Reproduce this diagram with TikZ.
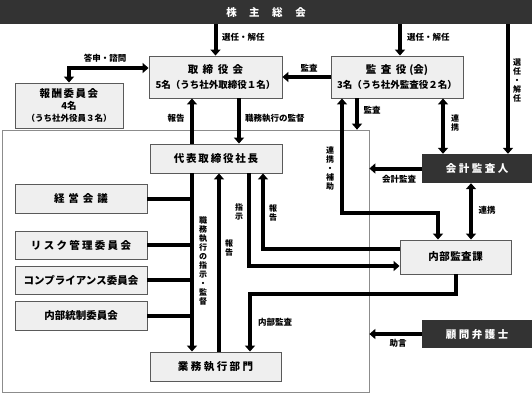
\documentclass[tikz,border=0pt]{standalone}
\usepackage{fontspec}
\setmainfont{Noto Sans CJK JP}
\usetikzlibrary{arrows.meta}
\definecolor{boxfill}{HTML}{EFEFEF}
\definecolor{boxline}{HTML}{5A5A5A}
\definecolor{darkfill}{HTML}{333333}
\definecolor{frameline}{HTML}{8C8C8C}
\newdimen\lsp
\def\soutx#1{\ifx#1\relax\unkern\else#1\kern\lsp\expandafter\soutx\fi}
\newcommand\ls[2]{{\lsp=#1\relax\soutx#2\relax}}
\newcommand\titlef{\fontsize{10.5}{13}\selectfont\bfseries}
\newcommand\subf{\fontsize{9.5}{13}\selectfont\bfseries}
\tikzset{
  box/.style={draw=boxline, fill=boxfill, line width=0.9pt, inner sep=0pt, align=center, font=\titlef},
  darkbox/.style={fill=darkfill, text=white, inner sep=0pt, align=center, font=\titlef},
  frame/.style={draw=frameline, line width=0.7pt, inner sep=0pt},
  arr/.style={line width=4pt, -{Triangle[length=6pt,width=10pt]}},
  dbl/.style={line width=4pt, {Triangle[length=6pt,width=10pt]}-{Triangle[length=6pt,width=10pt]}},
  ln/.style={line width=4pt},
  lab/.style={font=\fontsize{8.5}{9}\selectfont\bfseries, inner sep=0pt},
  vlab/.style={font=\fontsize{8}{9}\selectfont\bfseries, inner sep=0pt, align=center},
}
\begin{document}
\begin{tikzpicture}[x=1pt,y=-1pt]
\useasboundingbox (0,0) rectangle (532,394);
% frame of executive area
\node[frame, minimum width=367pt, minimum height=262pt] (shikko) at (185.5,261) {};
% boxes
\node[darkbox, minimum width=532pt, minimum height=24pt] (soukai) at (266,12) {\ls{12.5pt}{株主総会}};
\node[box, minimum width=133pt, minimum height=42pt] (torishimari) at (215.5,77) {\ls{4.5pt}{取締役会}\\[2pt]{\subf 5名（うち社外取締役１名）}};
\node[box, minimum width=132pt, minimum height=42pt] (kansayaku) at (397,77) {\ls{4.5pt}{監査役}\kern3pt(会)\\[2pt]{\subf 3名（うち社外監査役２名）}};
\node[box, minimum width=108pt, minimum height=45pt] (houshu) at (69,105.5) {\ls{1.5pt}{報酬委員会}\\[-1pt]{\subf 4名}\\[-1pt]{\fontsize{8.5}{13}\selectfont （うち社外役員３名）}};
\node[box, minimum width=132pt, minimum height=29pt] (daihyo) at (216,158.5) {\ls{1.8pt}{代表取締役社長}};
\node[box, minimum width=132pt, minimum height=29pt] (keiei) at (81,198.5) {\ls{4pt}{経営会議}};
\node[box, minimum width=132pt, minimum height=28pt] (risk) at (81,245) {\ls{2.3pt}{リスク管理委員会}};
\node[box, minimum width=132pt, minimum height=28pt] (comp) at (81,280) {コンプライアンス委員会};
\node[box, minimum width=132pt, minimum height=29pt] (naibu) at (81,315.5) {内部統制委員会};
\node[box, minimum width=131pt, minimum height=29pt] (gyomu) at (215.5,366.5) {\ls{2.5pt}{業務執行部門}};
\node[darkbox, minimum width=110pt, minimum height=29pt] (kaikei) at (477,168.5) {\ls{2.5pt}{会計監査人}};
\node[box, minimum width=111pt, minimum height=34pt] (naibukansa) at (455.5,257) {\ls{0.5pt}{内部監査課}};
\node[darkbox, minimum width=110pt, minimum height=28pt] (komon) at (477,334) {\ls{2.5pt}{顧問弁護士}};
\coordinate (h1) at (0,213);
\coordinate (spine) at ([xshift=-24pt]daihyo.south);
% connectors
\draw[arr] (torishimari.north |- soukai.south) -- (torishimari.north);
\draw[arr] ([xshift=3pt]kansayaku.north |- soukai.south) -- ([xshift=3pt]kansayaku.north);
\draw[arr] ([xshift=31pt]kaikei.north |- soukai.south) -- ([xshift=31pt]kaikei.north);
\draw[arr] (kansayaku.west) -- (torishimari.east);
\draw[dbl] ([yshift=9pt]torishimari.west) -| (houshu.north);
\draw[arr] ([xshift=-24pt]daihyo.north) -- ([xshift=-24pt]daihyo.north |- torishimari.south);
\draw[arr] ([xshift=23pt]daihyo.north |- torishimari.south) -- ([xshift=23pt]daihyo.north);
\draw[arr] ([xshift=-40pt]kansayaku.south) -- ([xshift=-40pt]kansayaku.south |- shikko.north);
\draw[dbl] ([xshift=-55pt]kansayaku.south) -- ([xshift=-55pt]kansayaku.south |- h1) -| ([xshift=-17.5pt]naibukansa.north);
\draw[dbl] ([xshift=46pt]kansayaku.south) -- ([xshift=46pt]kansayaku.south |- kaikei.north);
\draw[arr] (kaikei.west) -- (kaikei.west -| shikko.east);
\draw[dbl] ([xshift=15.5pt]naibukansa.north |- kaikei.south) -- ([xshift=15.5pt]naibukansa.north);
\draw[arr] ([yshift=8pt]naibukansa.west) -| ([xshift=47pt]daihyo.south);
\draw[arr] ([xshift=33pt]daihyo.south) |- ([yshift=-9pt]naibukansa.west);
\draw[arr] (naibukansa.south) -- ++(0,20) -| ([xshift=34.5pt]gyomu.north);
\draw[arr] (spine) -- (spine |- gyomu.north);
\draw[ln] (keiei.east) -- (keiei.east -| spine);
\draw[ln] (risk.east) -- (risk.east -| spine);
\draw[ln] (comp.east) -- (comp.east -| spine);
\draw[ln] (naibu.east) -- (naibu.east -| spine);
\draw[arr] ([xshift=3.5pt]gyomu.north) -- ([xshift=3.5pt]gyomu.north |- daihyo.south);
\draw[arr] (komon.west) -- (komon.west -| shikko.east);
% labels
\node[lab, anchor=west] (l1) at (222,37) {選任・解任};
\node[lab, anchor=west] (l2) at (407,37) {選任・解任};
\node[vlab] (l3) at (517,81) {選\\任\\・\\解\\任};
\node[lab] (l4) at (105,58) {答申・諮問};
\node[lab] (l5) at (309,68) {監査};
\node[lab] (l6) at (176,118) {報告};
\node[lab, anchor=west] (l7) at (245,118) {職務執行の監督};
\node[lab] (l8) at (372,110) {監査};
\node[vlab] (l9) at (455,123) {連\\携};
\node[vlab] (l10) at (330,168) {連\\携\\・\\補\\助};
\node[lab] (l11) at (399,179) {会計監査};
\node[lab] (l12) at (487,210) {連携};
\node[vlab] (l13) at (273,213) {報\\告};
\node[vlab] (l14) at (239,212) {指\\示};
\node[vlab] (l15) at (229,248) {報\\告};
\node[vlab] (l16) at (203,261) {職\\務\\執\\行\\の\\指\\示\\・\\監\\督};
\node[lab] (l17) at (275,322) {内部監査};
\node[lab] (l18) at (398,343) {助言};
\end{tikzpicture}
\end{document}
